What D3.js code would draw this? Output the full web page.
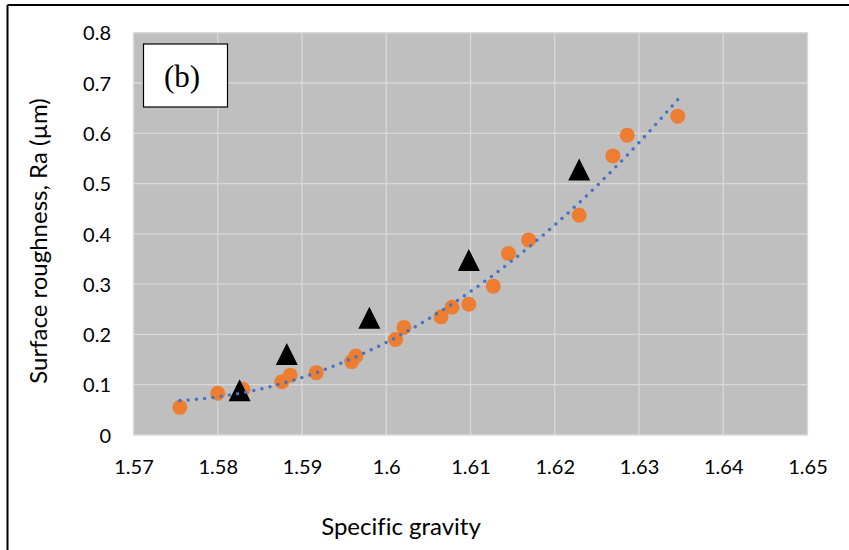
<!DOCTYPE html>
<html>
<head>
<meta charset="utf-8">
<script src="https://cdn.jsdelivr.net/npm/d3@7"></script>
<style>
  html, body { margin: 0; padding: 0; background: #fff; }
  svg { display: block; }
  text { font-variant-ligatures: none; font-feature-settings: "liga" 0; }
</style>
</head>
<body>
<svg id="chart" width="849" height="550"></svg>
<script>
// ---- data ----
const measuredX = [1.5755, 1.5800, 1.5830, 1.5876, 1.5886, 1.5917, 1.5959, 1.5964, 1.6011, 1.6021,
                   1.6065, 1.6078, 1.6098, 1.6127, 1.6145, 1.6169, 1.6229, 1.6269, 1.6286, 1.6346];
const measuredY = [0.055, 0.083, 0.091, 0.106, 0.119, 0.124, 0.146, 0.157, 0.190, 0.214,
                   0.235, 0.254, 0.260, 0.296, 0.361, 0.388, 0.437, 0.555, 0.596, 0.634];
const triangleX = [1.5826, 1.5882, 1.5980, 1.6098, 1.6229];
const triangleY = [0.089, 0.161, 0.233, 0.348, 0.528];
const xTicks = [1.57, 1.58, 1.59, 1.60, 1.61, 1.62, 1.63, 1.64, 1.65];
const xTickLabels = ["1.57", "1.58", "1.59", "1.6", "1.61", "1.62", "1.63", "1.64", "1.65"];
const yTicks = [0, 0.1, 0.2, 0.3, 0.4, 0.5, 0.6, 0.7, 0.8];
const yTickLabels = ["0", "0.1", "0.2", "0.3", "0.4", "0.5", "0.6", "0.7", "0.8"];
const xTitle = "Specific gravity";
const yTitle = "Surface roughness, Ra (\u00b5m)";
const panelLabel = "(b)";

// ---- layout ----
const svg = d3.select("#chart");
const plot = { left: 133.5, right: 807.5, top: 32.7, bottom: 435 };
const x = d3.scaleLinear().domain([1.57, 1.65]).range([plot.left, plot.right]);
const y = d3.scaleLinear().domain([0, 0.8]).range([plot.bottom, plot.top]);
const tickFont = "Lato, 'Open Sans', sans-serif";

// outer frame (top and left edges visible)
svg.append("line").attr("x1", 7.5).attr("x2", 849).attr("y1", 5).attr("y2", 5)
  .attr("stroke", "#000").attr("stroke-width", 2);
svg.append("line").attr("x1", 7.5).attr("x2", 7.5).attr("y1", 5).attr("y2", 550)
  .attr("stroke", "#000").attr("stroke-width", 2);

// plot background
svg.append("rect")
  .attr("x", plot.left).attr("y", plot.top)
  .attr("width", plot.right - plot.left).attr("height", plot.bottom - plot.top)
  .attr("fill", "#bfbfbf").attr("stroke", "#d9d9d9").attr("stroke-width", 1.3);

// gridlines
svg.append("g").selectAll("line").data(xTicks.slice(1, -1)).join("line")
  .attr("x1", d => x(d)).attr("x2", d => x(d))
  .attr("y1", plot.top).attr("y2", plot.bottom)
  .attr("stroke", "#d9d9d9").attr("stroke-width", 1.3);
svg.append("g").selectAll("line").data(yTicks.slice(1, -1)).join("line")
  .attr("x1", plot.left).attr("x2", plot.right)
  .attr("y1", d => y(d)).attr("y2", d => y(d))
  .attr("stroke", "#d9d9d9").attr("stroke-width", 1.3);

// axes (labels only, using d3 axis generators)
const xAxis = d3.axisBottom(x).tickValues(xTicks).tickFormat((d, i) => xTickLabels[i]).tickSize(0).tickPadding(0);
const gx = svg.append("g").attr("transform", `translate(0, 474)`).call(xAxis);
gx.select(".domain").remove();
gx.selectAll("text").attr("dy", 0).attr("y", 0)
  .attr("font-family", tickFont).attr("font-size", 20).attr("fill", "#000");

const yAxis = d3.axisLeft(y).tickValues(yTicks).tickFormat((d, i) => yTickLabels[i]).tickSize(0).tickPadding(0);
const gy = svg.append("g").attr("transform", `translate(111, 0)`).call(yAxis);
gy.select(".domain").remove();
gy.selectAll("text").attr("x", 0).attr("dy", "0.36em")
  .attr("font-family", tickFont).attr("font-size", 20).attr("fill", "#000");

// axis titles
svg.append("text").attr("x", 401).attr("y", 535).attr("text-anchor", "middle")
  .attr("font-family", tickFont).attr("font-size", 24).attr("fill", "#000").text(xTitle);
svg.append("text").attr("transform", "translate(47, 241) rotate(-90)").attr("text-anchor", "middle")
  .attr("font-family", tickFont).attr("font-size", 24).attr("fill", "#000").text(yTitle);

// measured points (orange circles)
const pts = measuredX.map((v, i) => ({ x: v, y: measuredY[i] }));
svg.append("g").selectAll("circle").data(pts).join("circle")
  .attr("cx", d => x(d.x)).attr("cy", d => y(d.y)).attr("r", 7.5)
  .attr("fill", "#ed7d31");

// triangles
const tri = triangleX.map((v, i) => ({ x: v, y: triangleY[i] }));
const tw = 22, th = 22;
svg.append("g").selectAll("path").data(tri).join("path")
  .attr("transform", d => `translate(${x(d.x)}, ${y(d.y)})`)
  .attr("d", `M0,${-th / 2}L${tw / 2},${th / 2}L${-tw / 2},${th / 2}Z`)
  .attr("fill", "#000");

// polynomial (order 2) least-squares trendline of the measured points
function polyFit2(xs, ys) {
  const x0 = d3.mean(xs);
  const u = xs.map(v => v - x0);
  let S = [0, 0, 0, 0, 0], T = [0, 0, 0];
  u.forEach((ui, i) => {
    for (let k = 0; k < 5; k++) S[k] += Math.pow(ui, k);
    for (let k = 0; k < 3; k++) T[k] += Math.pow(ui, k) * ys[i];
  });
  const A = [[S[0], S[1], S[2], T[0]], [S[1], S[2], S[3], T[1]], [S[2], S[3], S[4], T[2]]];
  for (let c = 0; c < 3; c++) {
    for (let r = c + 1; r < 3; r++) {
      const f = A[r][c] / A[c][c];
      for (let k = c; k < 4; k++) A[r][k] -= f * A[c][k];
    }
  }
  const b = [0, 0, 0];
  for (let r = 2; r >= 0; r--) {
    let s = A[r][3];
    for (let k = r + 1; k < 3; k++) s -= A[r][k] * b[k];
    b[r] = s / A[r][r];
  }
  return v => b[0] + b[1] * (v - x0) + b[2] * (v - x0) * (v - x0);
}
const fit = polyFit2(measuredX, measuredY);
const [xmin, xmax] = d3.extent(measuredX);
const trend = d3.range(0, 101).map(i => { const v = xmin + (xmax - xmin) * i / 100; return [v, fit(v)]; });
svg.append("path")
  .attr("d", d3.line().x(d => x(d[0])).y(d => y(d[1]))(trend))
  .attr("fill", "none").attr("stroke", "#4472c4").attr("stroke-width", 3.5)
  .attr("stroke-linecap", "round").attr("stroke-dasharray", "0,8.3");

// panel label box
svg.append("rect").attr("x", 143.5).attr("y", 44).attr("width", 84).attr("height", 63)
  .attr("fill", "#fff").attr("stroke", "#000").attr("stroke-width", 1.2);
svg.append("text").attr("x", 182).attr("y", 86.5).attr("text-anchor", "middle")
  .attr("font-family", "'Liberation Serif', 'DejaVu Serif', serif").attr("font-size", 31)
  .attr("fill", "#000").text(panelLabel);
</script>
</body>
</html>
